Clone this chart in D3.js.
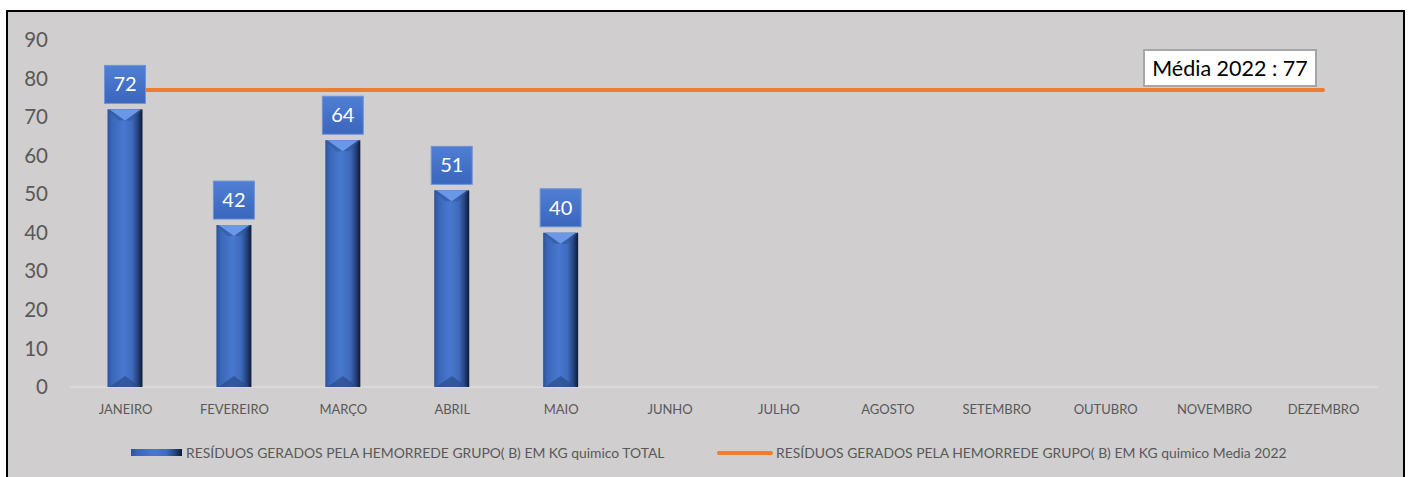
<!DOCTYPE html>
<html>
<head>
<meta charset="utf-8">
<script src="https://cdn.jsdelivr.net/npm/d3@7"></script>
<style>
  html, body { margin: 0; padding: 0; background: #ffffff; }
  svg { display: block; }
</style>
</head>
<body>
<svg id="chart" width="1409" height="477"></svg>
<script>
// Monthly chemical waste (kg), Group B
const months = ["JANEIRO", "FEVEREIRO", "MARÇO", "ABRIL", "MAIO", "JUNHO",
                "JULHO", "AGOSTO", "SETEMBRO", "OUTUBRO", "NOVEMBRO", "DEZEMBRO"];
const totals = [72, 42, 64, 51, 40, null, null, null, null, null, null, null];
const average2022 = [77, 77, 77, 77, 77, 77, 77, 77, 77, 77, 77, 77];
const yTicks = [0, 10, 20, 30, 40, 50, 60, 70, 80, 90];
const seriesNames = [
  "RESÍDUOS GERADOS PELA HEMORREDE GRUPO( B) EM KG quimico TOTAL",
  "RESÍDUOS GERADOS PELA HEMORREDE GRUPO( B) EM KG quimico Media 2022"
];
const averageLabel = "Média 2022 : 77";

const FONT = "Lato, 'Open Sans', sans-serif";
const svg = d3.select("#chart");

// frame
svg.append("rect").attr("x", 7).attr("y", 11).attr("width", 1397).attr("height", 480)
  .attr("fill", "#d0cece").attr("stroke", "#000").attr("stroke-width", 2);

const defs = svg.append("defs");
const barGrad = defs.append("linearGradient").attr("id", "barGrad")
  .attr("x1", "0").attr("x2", "1").attr("y1", "0").attr("y2", "0");
[[0, "#2c5299"], [0.12, "#3a66b8"], [0.45, "#4878cf"], [0.7, "#3f6bbd"], [0.88, "#223f78"], [1, "#0d1a33"]]
  .forEach(([o, c]) => barGrad.append("stop").attr("offset", o).attr("stop-color", c));
const boxGrad = defs.append("linearGradient").attr("id", "boxGrad")
  .attr("x1", "0").attr("x2", "0").attr("y1", "0").attr("y2", "1");
[[0, "#4f7fd3"], [1, "#3a66bd"]]
  .forEach(([o, c]) => boxGrad.append("stop").attr("offset", o).attr("stop-color", c));

const xc = d3.scalePoint().domain(months).range([125, 1323]);
const y = d3.scaleLinear().domain([0, 90]).range([387, 40]);

// y axis labels
const yAxis = svg.append("g").attr("transform", "translate(48,0)")
  .call(d3.axisLeft(y).tickValues(yTicks).tickSize(0).tickPadding(0));
yAxis.select(".domain").remove();
yAxis.selectAll("text").attr("font-family", FONT).attr("font-size", 20.5).attr("fill", "#595959");

// baseline
svg.append("line").attr("x1", 70).attr("x2", 1378).attr("y1", y(0)).attr("y2", y(0))
  .attr("stroke", "#dcdcdc").attr("stroke-width", 1.5);

// x axis labels
const xAxis = svg.append("g").attr("transform", `translate(0,${y(0)})`)
  .call(d3.axisBottom(xc).tickSize(0).tickPadding(18));
xAxis.select(".domain").remove();
xAxis.selectAll("text").attr("font-family", FONT).attr("font-size", 13).attr("fill", "#595959");

// bars with bevelled caps
const barData = months.map((m, i) => ({ m, v: totals[i] })).filter(d => d.v != null);
const bw = 35;
const bars = svg.append("g").selectAll("g").data(barData).join("g");
bars.append("rect")
  .attr("x", d => xc(d.m) - bw / 2).attr("y", d => y(d.v))
  .attr("width", bw).attr("height", d => y(0) - y(d.v))
  .attr("fill", "url(#barGrad)");
const cap = 11;
bars.append("path")
  .attr("d", d => {
    const x0 = xc(d.m) - bw / 2, x1 = x0 + bw, t = y(d.v);
    return `M${x0},${t}L${x1},${t}L${x1 - cap},${t + cap}L${x0 + cap},${t + cap}Z`;
  }).attr("fill", "#2f5599").attr("opacity", 0.55);
bars.append("path")
  .attr("d", d => {
    const x0 = xc(d.m) - bw / 2, x1 = x0 + bw, t = y(d.v), c = xc(d.m);
    return `M${x0 + 2},${t}L${x1 - 2},${t}L${c},${t + cap}Z`;
  }).attr("fill", "#6b98e6");
bars.append("path")
  .attr("d", d => {
    const x0 = xc(d.m) - bw / 2, x1 = x0 + bw, b = y(0), c = xc(d.m);
    return `M${x0 + 2},${b}L${c},${b - cap}L${x1 - 2},${b}Z`;
  }).attr("fill", "#2a4c8c").attr("opacity", 0.7);

// average line
const line = d3.line().x((d, i) => xc(months[i])).y(d => y(d));
svg.append("path").datum(average2022).attr("d", line)
  .attr("fill", "none").attr("stroke", "#ed7d31").attr("stroke-width", 4).attr("stroke-linecap", "round");

// value labels on bars
const lbl = svg.append("g").selectAll("g").data(barData).join("g")
  .attr("transform", d => `translate(${xc(d.m)},${y(d.v) - 25})`);
lbl.append("rect").attr("x", -20.5).attr("y", -19).attr("width", 41).attr("height", 38)
  .attr("fill", "url(#boxGrad)").attr("stroke", "#6e94d6").attr("stroke-width", 1);
lbl.append("text").attr("text-anchor", "middle").attr("dy", "0.35em")
  .attr("font-family", FONT).attr("font-size", 20).attr("fill", "#ffffff").text(d => d.v);

// average label box
const avgG = svg.append("g").attr("transform", "translate(1230,68)");
avgG.append("rect").attr("x", -86).attr("y", -18).attr("width", 172).attr("height", 36)
  .attr("fill", "#ffffff").attr("stroke", "#a6a6a6").attr("stroke-width", 2);
avgG.append("text").attr("text-anchor", "middle").attr("dy", "0.35em")
  .attr("font-family", FONT).attr("font-size", 21.5).attr("fill", "#000").text(averageLabel);

// legend
const leg = svg.append("g");
leg.append("rect").attr("x", 131).attr("y", 449).attr("width", 51).attr("height", 7)
  .attr("fill", "url(#barGrad)");
leg.append("text").attr("x", 186).attr("y", 453).attr("dy", "0.35em")
  .attr("font-family", FONT).attr("font-size", 13.9).attr("fill", "#595959").text(seriesNames[0]);
leg.append("line").attr("x1", 719).attr("x2", 771).attr("y1", 453).attr("y2", 453)
  .attr("stroke", "#ed7d31").attr("stroke-width", 4).attr("stroke-linecap", "round");
leg.append("text").attr("x", 776).attr("y", 453).attr("dy", "0.35em")
  .attr("font-family", FONT).attr("font-size", 13.9).attr("fill", "#595959").text(seriesNames[1]);
</script>
</body>
</html>
